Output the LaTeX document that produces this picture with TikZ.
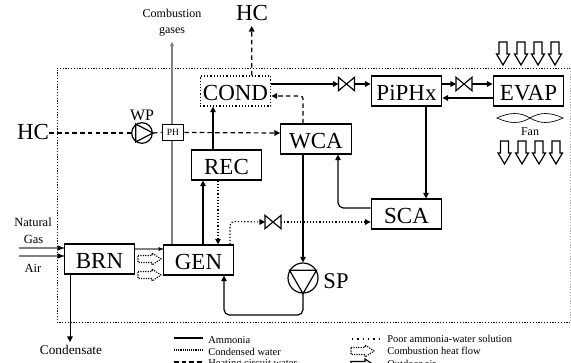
\documentclass[tikz,border=0pt]{standalone}
\usepackage{fontspec}
\setmainfont{Liberation Serif}
\usetikzlibrary{arrows.meta,calc}
\newcommand{\fpx}[1]{\fontsize{\the\dimexpr#1pt*3/4\relax}{\the\dimexpr#1pt*9/10\relax}\selectfont}
\newcommand{\hollowdown}[3]{\draw[airarrow,#3] (#1-4,#2) -- (#1+4,#2) -- (#1+4,#2+12) -- (#1+6.5,#2+12) -- (#1,#2+23) -- (#1-6.5,#2+12) -- (#1-4,#2+12) -- cycle;}
\newcommand{\hollowright}[3]{\draw[airarrow,#3] (#1,#2-3.5) -- (#1+14,#2-3.5) -- (#1+14,#2-6) -- (#1+23,#2) -- (#1+14,#2+6) -- (#1+14,#2+3.5) -- (#1,#2+3.5) -- cycle;}
\tikzset{
  x=0.75pt,y=-0.75pt,
  tip/.style={-{Triangle[length=4.2pt,width=4.2pt]}},
  flow/.style={line width=0.9pt},
  water/.style={line width=0.9pt,dash pattern=on 3.4pt off 2.4pt},
  sol/.style={line width=0.85pt,dash pattern=on 0.9pt off 1.5pt},
  gas/.style={line width=1pt,draw=black!50},
  unit/.style={draw,line width=0.9pt,inner sep=0pt,minimum width=53pt,minimum height=22.5pt,text height=15pt,text depth=0pt,font=\fpx{23}},
  lab/.style={inner sep=0pt,font=\fpx{12}},
  legend/.style={inner sep=0pt,anchor=west,font=\fpx{10.5}},
  big/.style={inner sep=0pt,font=\fpx{23}},
  valvebox/.style={inner sep=0pt,minimum width=11.5pt,minimum height=9.5pt},
  valveline/.style={line width=0.9pt},
  pump/.style={draw,circle,line width=0.9pt,inner sep=0pt},
  airarrow/.style={line width=0.9pt},
  heatarrow/.style={line width=0.8pt,dash pattern=on 0.9pt off 0.9pt},
  border/.style={line width=0.7pt,dash pattern=on 0.9pt off 1.2pt}
}
\begin{document}
\begin{tikzpicture}
\useasboundingbox (0,0) rectangle (571,363);
\clip (0,0) rectangle (571,363);
% system border
\draw[border] (570.5,68) -- (57,68) -- (57,322) -- (570.5,322);
\draw[border,black!35] (570.5,68) -- (570.5,322);
% units
\node[unit,sol,line width=0.95pt] (COND) at (235.5,91) {COND};
\node[unit] (REC) at (226.5,165) {REC};
\node[unit] (WCA) at (316,139) {WCA};
\node[unit] (PIPHX) at (406.5,91) {PiPHx};
\node[unit] (EVAP) at (528.5,91) {EVAP};
\node[unit] (SCA) at (406.5,214) {SCA};
\node[unit] (BRN) at (99.5,259) {BRN};
\node[unit] (GEN) at (198.5,260) {GEN};
\node[draw,line width=0.9pt,inner sep=0pt,minimum width=16pt,minimum height=11.5pt,font=\fpx{9.5}] (PH) at (173,132.5) {PH};
\node[pump,minimum size=15.5pt] (WP) at (142,133) {};
\node[pump,minimum size=22.5pt] (SP) at (303,278) {};
\draw[line width=0.9pt] (WP.125) -- (WP.east) -- (WP.235) -- cycle;
\draw[line width=0.9pt] (SP.150) -- (SP.30) -- (SP.south) -- cycle;
% valves
\node[valvebox] (V1) at (346.5,84) {};
\node[valvebox] (V2) at (464,84) {};
\node[valvebox] (V3) at (273,222) {};
\foreach \v in {V1,V2,V3}
  \draw[valveline] (\v.south west) -- (\v.north east) -- (\v.south east) -- (\v.north west) -- cycle;
% labels
\node[big] (HCT) at (252,13) {HC};
\node[big] (HCL) at (33,132) {HC};
\node[inner sep=0pt,font=\fpx{16}] (WPL) at (142,115) {WP};
\node[inner sep=0pt,font=\fpx{22.5}] (SPL) at (336,281) {SP};
\node[lab,align=center] (CG) at (172,22.5) {Combustion\\[1.5pt]gases};
\node[lab,font=\fpx{12.5}] (NG) at (33,222) {Natural};
\node[lab,font=\fpx{12.5}] (GS) at (33.5,239) {Gas};
\node[lab,font=\fpx{12.5}] (AIR) at (33,268) {Air};
\node[inner sep=0pt,font=\fpx{13.3}] (CON) at (71,350) {Condensate};
\node[lab] (FAN) at (530,132) {Fan};
% free ends
\coordinate (CGend) at (172,42);
\coordinate (NGstart) at (19,248);
\coordinate (AIRstart) at (19,256);
\coordinate (CONtip) at (70,342);
% heating water
\draw[water,tip] (COND.north -| 251.7,0) -- ($(HCT.south)+(-0.3,5)$);
\draw[water] (HCL.east |- 0,133) -- (WP.west);
\draw[water] (WP.east) -- (PH.west);
\draw[water,tip] (PH.east) -- (WCA.west |- 0,133);
\draw[water,tip,rounded corners=2pt] (WCA.north) ++(-13,0) -- (303,96) -- (COND.east |- 0,96);
% combustion gases
\draw[gas] (GEN.north -| 172,0) -- (PH.south -| 172,0);
\draw[gas,arrows={-{Triangle[length=3pt,width=3pt,fill=black]}}] (PH.north -| 172,0) -- (CGend);
\draw[gas] (BRN.east |- 0,249) -- (GEN.west |- 0,249);
\fill (GEN.west |- 0,249) -- +(-4,-2) -- +(-4,2) -- cycle;
\draw[gas] (NGstart) -- (BRN.west |- 0,248);
\draw[gas] (AIRstart) -- (BRN.west |- 0,256);
\fill (BRN.west |- 0,248) -- +(-6,-2.8) -- +(-6,2.8) -- cycle;
\fill (BRN.west |- 0,256) -- +(-6,-2.8) -- +(-6,2.8) -- cycle;
% ammonia
\draw[flow,tip] (REC.north -| 213,0) -- (COND.south -| 213,0);
\draw[flow,tip] (COND.east |- 0,84) -- (V1.west);
\draw[flow,tip] (V1.east) -- (PIPHX.west |- 0,84);
\draw[flow,tip] (PIPHX.east |- 0,84) -- (V2.west);
\draw[flow,tip] (V2.east) -- (EVAP.west |- 0,84);
\draw[flow,tip] (EVAP.west |- 0,98) -- (PIPHX.east |- 0,98);
\draw[flow,tip] (PIPHX.south -| 426,0) -- (SCA.north -| 426,0);
\draw[flow,tip,rounded corners=4pt] (SCA.west |- 0,208) -- (338,208) -- (WCA.south -| 338,0);
\draw[flow,tip] (WCA.south -| 303,0) -- (SP.north);
\draw[flow,tip,rounded corners=4pt] (SP.south) -- (303,315) -- (224,315) -- (GEN.south -| 224,0);
\draw[flow,tip] (GEN.north -| 203,0) -- (REC.south -| 203,0);
\draw[line width=0.7pt,tip] (BRN.south -| CONtip) -- (CONtip);
% condensed water and solution
\draw[sol,tip] (REC.south -| 218,0) -- (GEN.north -| 218,0);
\draw[sol,tip,rounded corners=3pt] (GEN.north -| 230,0) -- (230,221.5) -- (V3.west);
\draw[sol,tip] (V3.east) -- (SCA.west |- 0,222);
% combustion heat block arrows
\hollowright{138}{259}{heatarrow}
\hollowright{138}{275}{heatarrow}
% outdoor air
\foreach \x in {503,521,538,555}{\hollowdown{\x}{42}{}}
\foreach \x in {504.5,522,539,556}{\hollowdown{\x}{141}{}}
% fan
\draw[line width=0.5pt] (497,118) .. controls (510,112) and (520,112) .. (530,118) .. controls (540,124) and (550,124) .. (563,118) .. controls (550,112) and (540,112) .. (530,118) .. controls (520,124) and (510,124) .. (497,118) -- cycle;
% legend
\coordinate (LA1) at (174,338); \coordinate (LA2) at (203,338);
\coordinate (LB1) at (174,350); \coordinate (LB2) at (203,350);
\coordinate (LC1) at (174,362); \coordinate (LC2) at (203,362);
\coordinate (LD1) at (352,339); \coordinate (LD2) at (380,339);
\draw[flow] (LA1) -- (LA2);
\draw[line width=0.8pt,dash pattern=on 0.7pt off 0.7pt] (LB1) -- (LB2);
\draw[water] (LC1) -- (LC2);
\draw[line width=0.8pt,dash pattern=on 1pt off 3pt] (LD1) -- (LD2);
\hollowright{351}{351}{heatarrow}
\hollowright{351}{365}{airarrow}
\node[legend] (TA) at (208,340) {Ammonia};
\node[legend] (TB) at (208,352) {Condensed water};
\node[legend] (TC) at (208,364) {Heating circuit water};
\node[legend] (TD) at (387,339) {Poor ammonia-water solution};
\node[legend] (TE) at (387,351) {Combustion heat flow};
\node[legend] (TF) at (387,363.5) {Outdoor air};
\end{tikzpicture}
\end{document}
